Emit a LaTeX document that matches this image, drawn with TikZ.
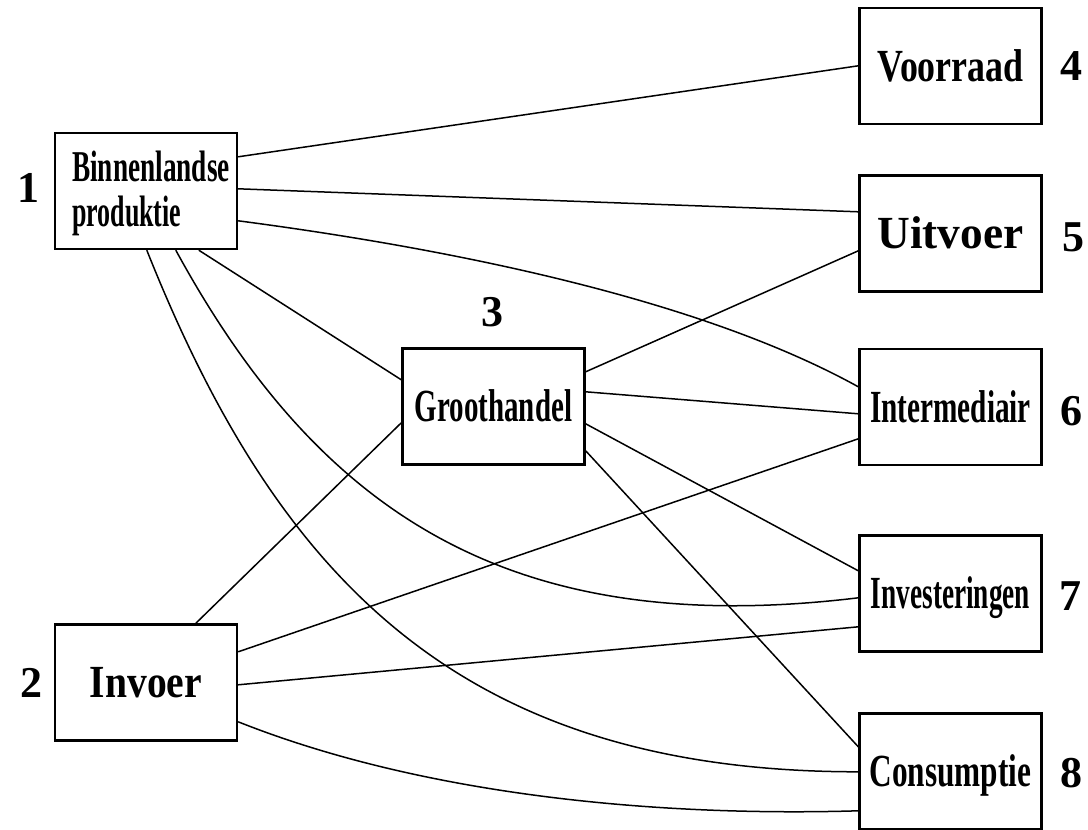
\documentclass[tikz,border=0pt]{standalone}
\usepackage{fontspec}
\usepackage{graphicx}
\setmainfont{Liberation Serif}
\usetikzlibrary{calc}

\begin{document}
\begin{tikzpicture}[x=1pt,y=-1pt,
  box/.style={draw, line width=2.4pt, minimum width=182pt, minimum height=116pt,
    inner sep=0pt, font=\fontsize{46}{50}\selectfont\bfseries,
    text height=30.5pt, text depth=0pt},
  boxtext/.style={inner sep=0pt, align=left, font=\fontsize{44}{45}\selectfont\bfseries},
  num/.style={inner sep=0pt, font=\fontsize{44}{48}\selectfont\bfseries},
  link/.style={line width=1.5pt}]

\useasboundingbox (0,0) rectangle (1088,830);

% sources, wholesale and destinations
\node[box] (b1)  at (146,191)     {};
\node[boxtext, anchor=north west] (b1t) at (72,151)
  {\scalebox{0.62}[1]{Binnenlandse}\\\scalebox{0.59}[1]{produktie}};
\node[box] (inv) at (146,682.5)   {\scalebox{0.86}[1]{Invoer}};
\node[box] (gh)  at (493.5,406.5) {\scalebox{0.63}[1]{Groothandel}};
\node[box] (vr)  at (950.5,66)    {\scalebox{0.78}[1]{Voorraad}};
\node[box] (ui)  at (950.5,233.5) {\scalebox{0.985}[1]{Uitvoer}};
\node[box] (im)  at (950.5,407)   {\scalebox{0.636}[1]{Intermediair}};
\node[box] (is)  at (950.5,593.5) {\scalebox{0.593}[1]{Investeringen}};
\node[box] (co)  at (950.5,771.5) {\scalebox{0.68}[1]{Consumptie}};

% numbers
\node[num] (n1) at (28,188)   {1};
\node[num] (n2) at (31,683)   {2};
\node[num] (n3) at (492,312)  {3};
\node[num] (n4) at (1071,66)  {4};
\node[num] (n5) at (1073,237) {5};
\node[num] (n6) at (1071,411) {6};
\node[num] (n7) at (1070,596) {7};
\node[num] (n8) at (1071,773) {8};

% flows from domestic production
\draw[link] ($(b1.north east)+(0,25)$) -- ($(vr.north west)+(0,59)$);
\draw[link] ($(b1.north east)+(0,57)$) -- ($(ui.north west)+(0,37.5)$);
\draw[link] ($(b1.north east)+(0,89)$) .. controls +(213,28) and +(-159,-88) .. ($(im.north west)+(0,39)$);
\draw[link] ($(b1.south west)+(145,0)$) -- ($(gh.north west)+(0,32.5)$);
\draw[link] ($(b1.south west)+(122,0)$) .. controls +(144,264) and +(-347,42) .. ($(is.north west)+(0,63.5)$);
\draw[link] ($(b1.south west)+(93,0)$) .. controls +(130,326) and +(-400,0) .. ($(co.north west)+(0,59.5)$);

% flows from wholesale
\draw[link] ($(gh.north east)+(0,24.5)$) -- ($(ui.north west)+(0,76.5)$);
\draw[link] ($(gh.north east)+(0,44.5)$) -- ($(im.north west)+(0,66)$);
\draw[link] ($(gh.north east)+(0,76.5)$) -- ($(is.north west)+(0,36.5)$);
\draw[link] ($(gh.north east)+(0,103.5)$) -- ($(co.north west)+(0,34.5)$);

% flows from imports
\draw[link] ($(inv.north west)+(142,0)$) -- ($(gh.north west)+(0,75.5)$);
\draw[link] ($(inv.north east)+(0,28.5)$) -- ($(im.north west)+(0,91)$);
\draw[link] ($(inv.north east)+(0,61.5)$) -- ($(is.north west)+(0,92.5)$);
\draw[link] ($(inv.north east)+(0,98.5)$) .. controls +(186,74) and +(-200,6) .. ($(co.north west)+(0,98.5)$);

\end{tikzpicture}
\end{document}
